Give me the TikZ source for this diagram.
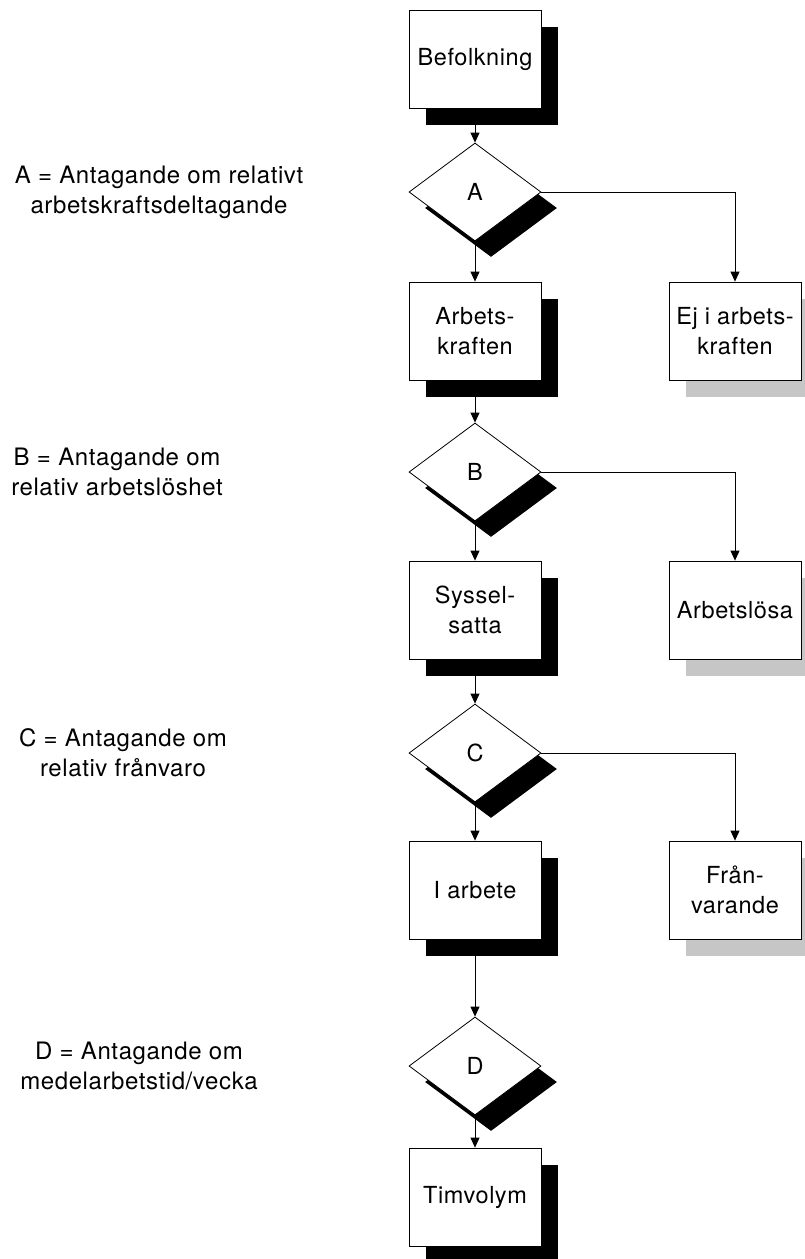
\documentclass[tikz,border=0pt]{standalone}
\usepackage{fontspec}
\setmainfont{TeX Gyre Heros}[LetterSpace=2.5]
\usetikzlibrary{
  arrows.meta,
  shapes.geometric,
  shadows
}
\tikzset{>={Triangle[length=10pt,width=9pt]}}
\newcommand{\flowfont}{\fontsize{23.5}{30}\selectfont}
\newcommand{\notefont}{\fontsize{24}{30}\selectfont}
\tikzset{
  basebox/.style={draw,fill=white,minimum width=132pt,minimum height=98pt,inner sep=0pt,align=center,font=\flowfont},
  procbox/.style={basebox,drop shadow={shadow xshift=17pt,shadow yshift=-17pt,fill=black,opacity=1}},
  sidebox/.style={basebox,drop shadow={shadow xshift=17pt,shadow yshift=-17pt,fill=gray!45,opacity=1}},
  decision/.style={diamond,draw,fill=white,aspect=1.35,minimum width=132pt,minimum height=98pt,inner sep=0pt,font=\flowfont,
    drop shadow={shadow xshift=16pt,shadow yshift=-16pt,fill=black,opacity=1}},
  note/.style={align=center,font=\notefont},
  arr/.style={->}
}

\begin{document}
\begin{tikzpicture}[x=1pt,y=-1pt,line width=0.8pt]
			\useasboundingbox (0,0) rectangle (805,1259);

			% main column
			\node[procbox] (bef) at (475,59) {Befolkning};
			\node[decision] (decA) at (475,192) {A};
			\node[procbox] (arbkr) at (475,331) {Arbets-\\kraften};
			\node[decision] (decB) at (475,472) {B};
			\node[procbox] (syss) at (475,610) {Syssel-\\satta};
			\node[decision] (decC) at (475,753) {C};
			\node[procbox] (iarb) at (475,890) {I arbete};
			\node[decision] (decD) at (475,1066) {D};
			\node[procbox] (timv) at (475,1197) {Timvolym};

			% side boxes
			\node[sidebox] (ejarb) at (735,331) {Ej i arbets-\\kraften};
			\node[sidebox] (arblos) at (735,610) {Arbetslösa};
			\node[sidebox] (franv) at (735,890) {Från-\\varande};

			% notes
			\node[note] (noteA) at (159,192) {A = Antagande om relativt\\arbetskraftsdeltagande};
			\node[note] (noteB) at (117,472) {B = Antagande om\\relativ arbetslöshet};
			\node[note] (noteC) at (123,753) {C = Antagande om\\relativ frånvaro};
			\node[note] (noteD) at (139,1066) {D = Antagande om\\medelarbetstid/vecka};

			\draw[arr] (bef) -- (decA);
			\draw[arr] (decA) -- (arbkr);
			\draw[arr] (decA.east) -| (ejarb);
			\draw[arr] (arbkr) -- (decB);
			\draw[arr] (decB) -- (syss);
			\draw[arr] (decB.east) -| (arblos);
			\draw[arr] (syss) -- (decC);
			\draw[arr] (decC) -- (iarb);
			\draw[arr] (decC.east) -| (franv);
			\draw[arr] (iarb) -- (decD);
			\draw[arr] (decD) -- (timv);
		\end{tikzpicture}
\end{document}
